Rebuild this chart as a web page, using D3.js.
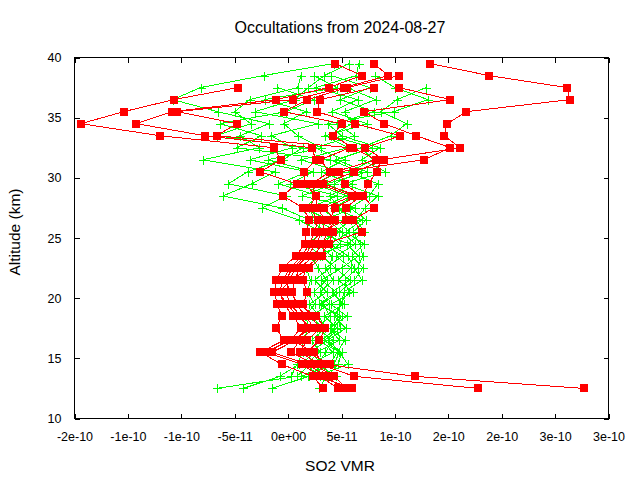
<!DOCTYPE html>
<html><head><meta charset="utf-8">
<script src="https://cdn.jsdelivr.net/npm/d3@7"></script>
<style>
body{margin:0;background:#fff}
svg{display:block}
text{font-family:"Liberation Sans",Arial,Helvetica,sans-serif;fill:#000}
</style>
</head><body>
<svg id="chart" width="640" height="480"></svg>
<script>
// ---- data (VMR values in units of 1e-11) ----
const UNIT = 1e-11;
const altitudes = [12.5,13.5,14.5,15.5,16.5,17.5,18.5,19.5,20.5,21.5,22.5,23.5,24.5,25.5,26.5,27.5,28.5,29.5,30.5,31.5,32.5,33.5,34.5,35.5,36.5,37.5,38.5,39.5];

// red profiles (squares)
const red1 = [3.3,2.3,-0.6,-2.6,-0.4,-1.1,-0.6,-1.0,-1.3,-1.1,-0.5,0.7,1.6,1.7,2.0,1.4,-0.5,0.8,-2.6,-0.7,-1.3,-12.0,-19.4,-15.4,-10.7,-4.7,null,null];
const red2 = [4.7,3.0,1.3,-2.1,0.2,1.2,0.5,-0.4,-0.8,-0.5,0.2,1.3,2.0,2.5,2.8,2.0,2.6,1.6,1.5,2.6,2.2,-7.8,-14.2,-10.9,-1.1,3.8,6.9,4.4];
const red3 = [5.1,3.6,1.8,-1.5,0.7,1.8,1.2,0.2,-0.2,0.1,0.7,1.8,2.6,3.2,3.5,2.7,2.6,2.2,3.9,3.0,5.8,-6.7,-4.8,-10.4,0.5,5.2,9.4,8.0];
const red4 = [5.5,4.3,2.4,0.3,1.1,2.4,1.7,0.7,0.4,0.6,1.1,2.4,3.2,3.7,4.4,3.4,6.0,2.8,4.4,8.2,6.1,4.2,5.0,-0.4,1.8,5.5,10.4,null];
const red5 = [17.8,6.2,3.0,1.1,1.8,3.0,2.1,1.4,1.8,1.4,1.6,3.0,3.8,4.2,3.9,4.4,6.5,3.3,6.2,9.0,7.2,10.5,6.3,2.7,3.0,8.0,null,null];
const red6 = [6.0,2.8,3.9,1.8,2.9,3.5,2.6,1.0,0.2,-0.2,0.4,1.6,2.2,3.0,5.4,5.4,6.8,5.3,4.8,12.7,15.2,12.0,9.0,7.1,15.2,10.4,null,null];
const red7 = [27.7,11.9,3.5,2.4,0.4,2.2,0.9,-0.1,-0.9,0.3,2.0,3.2,3.4,6.9,6.1,8.0,7.0,7.5,8.3,8.7,16.1,14.6,14.9,16.7,26.4,26.1,18.8,13.3];

// green profiles (plus markers)
const green1 = [-6.7,0.8,2.1,4.2,3.1,4.6,3.4,5.2,4.1,5.8,4.4,3.2,4.9,3.6,2.0,-0.6,-6.1,-3.4,-1.2,-8.0,-2.7,-4.5,-1.8,-6.6,-10.8,-8.2,-2.3,4.3];
const green2 = [-4.2,-0.8,1.0,2.7,4.8,3.9,5.5,4.0,6.1,4.7,5.9,4.5,6.3,5.0,3.8,1.5,2.9,-0.9,1.8,-3.6,0.4,-1.6,2.8,-3.1,0.6,1.9,3.4,5.7];
const green3 = [-1.5,1.9,3.3,2.0,3.7,5.4,4.3,5.0,5.2,6.9,6.2,5.6,4.0,5.7,4.6,3.0,5.5,2.4,4.9,1.2,5.6,3.5,7.4,4.1,6.5,2.6,6.4,6.6];
const green4 = [2.9,3.6,4.7,5.0,2.6,3.2,2.2,3.8,3.0,4.2,3.5,5.1,3.3,4.4,5.9,4.8,3.9,6.0,3.1,5.3,2.5,6.2,4.6,8.0,4.9,7.7,4.0,null];
const green5 = [null,2.6,5.6,4.8,3.8,4.3,5.0,2.9,4.5,3.1,5.0,6.6,5.5,7.1,6.4,7.2,8.4,5.2,9.1,6.9,8.6,5.0,3.7,9.9,13.1,10.0,8.1,null];
const green6 = [null,4.5,2.8,3.5,4.2,2.7,3.9,3.3,2.4,3.6,2.8,2.2,5.8,2.6,3.2,6.3,1.3,4.3,6.8,3.9,-4.8,-2.5,-6.4,-0.2,2.4,-1.0,null,null];
const green7 = [null,2.0,3.9,4.6,5.3,4.0,4.8,4.8,5.7,5.3,6.5,7.0,6.7,6.1,7.3,5.8,7.6,8.4,5.7,8.0,6.8,9.6,11.1,8.7,10.2,12.9,null,null];
const green8 = [null,3.0,1.6,3.0,2.2,3.5,2.9,2.0,3.6,2.5,3.9,4.1,2.7,4.8,2.5,2.0,4.6,0.2,2.3,-1.9,3.1,0.9,-0.4,1.7,-2.2,4.6,2.4,null];
const green9 = [null,1.2,4.3,4.8,3.4,4.9,4.6,3.1,4.8,6.2,7.0,6.0,7.1,5.4,6.9,4.3,6.1,3.6,7.4,4.5,7.9,4.0,6.0,5.3,8.2,5.5,null,null];
const green10 = [null,0.3,0.8,1.4,1.3,2.0,1.6,2.5,1.8,2.1,1.7,3.0,1.9,3.1,1.0,-2.4,-0.2,-5.6,-3.8,-0.5,1.4,-6.7,-3.5,-5.0,-3.6,0.9,1.2,null];

const redSeries = [red1,red2,red3,red4,red5,red6,red7];
const greenSeries = [green1,green2,green3,green4,green5,green6,green7,green8,green9,green10];

// ticks
const xTickValues = [-2e-10,-1.5e-10,-1e-10,-5e-11,0,5e-11,1e-10,1.5e-10,2e-10,2.5e-10,3e-10];
const xTickLabels = ["-2e-10","-1e-10","-1e-10","-5e-11","0e+00","5e-11","1e-10","2e-10","2e-10","3e-10","3e-10"];
const yTickValues = [10,15,20,25,30,35,40];
const yTickLabels = ["10","15","20","25","30","35","40"];

const titleText = "Occultations from 2024-08-27";
const xTitle = "SO2 VMR";
const yTitle = "Altitude (km)";

// ---- drawing ----
const svg = d3.select("#chart");
const L = 74.5, R = 608.5, T = 57.5, B = 418.5;
const x = d3.scaleLinear().domain([-2e-10, 3e-10]).range([L, R]);
const y = d3.scaleLinear().domain([10, 40]).range([B, T]);

const FONT = '"Liberation Sans",Arial,Helvetica,sans-serif';

function styleAxis(g, size) {
  g.select(".domain").remove();
  g.attr("font-family", FONT).attr("font-size", size);
  g.selectAll("line").attr("stroke", "#000").attr("shape-rendering", "crispEdges");
  g.selectAll("text").attr("fill", "#000");
}

svg.append("g").attr("transform", `translate(0,${B})`)
  .call(d3.axisBottom(x).tickValues(xTickValues).tickFormat((d, i) => xTickLabels[i]).tickSizeInner(-5).tickSizeOuter(0).tickPadding(14))
  .call(g => styleAxis(g, 12.5));
svg.append("g").attr("transform", `translate(0,${T})`)
  .call(d3.axisTop(x).tickValues(xTickValues).tickFormat("").tickSizeInner(-5).tickSizeOuter(0))
  .call(g => styleAxis(g, 12.5));
svg.append("g").attr("transform", `translate(${L},0)`)
  .call(d3.axisLeft(y).tickValues(yTickValues).tickFormat((d, i) => yTickLabels[i]).tickSizeInner(-5).tickSizeOuter(0).tickPadding(13))
  .call(g => styleAxis(g, 12.5));
svg.append("g").attr("transform", `translate(${R},0)`)
  .call(d3.axisRight(y).tickValues(yTickValues).tickFormat("").tickSizeInner(-5).tickSizeOuter(0))
  .call(g => styleAxis(g, 12.5));

const plot = svg.append("g");
const line = d3.line()
  .defined(d => d.v !== null)
  .x(d => x(d.v * UNIT))
  .y(d => y(d.alt));

function toPoints(vals) {
  return altitudes.map((a, i) => ({ alt: a, v: vals[i] }));
}

// green series
greenSeries.forEach(vals => {
  const pts = toPoints(vals);
  const g = plot.append("g");
  g.append("path").datum(pts).attr("d", line)
    .attr("fill", "none").attr("stroke", "#00ff00").attr("stroke-width", 1)
    .attr("shape-rendering", "crispEdges");
  g.selectAll("path.pt").data(pts.filter(d => d.v !== null)).join("path")
    .attr("class", "pt")
    .attr("transform", d => `translate(${Math.round(x(d.v * UNIT)) + 0.5},${Math.round(y(d.alt)) + 0.5})`)
    .attr("d", "M-4.5,0H4.5M0,-4.5V4.5")
    .attr("stroke", "#00ff00").attr("stroke-width", 1).attr("fill", "none")
    .attr("shape-rendering", "crispEdges");
});

// red series
redSeries.forEach(vals => {
  const pts = toPoints(vals);
  const g = plot.append("g");
  g.append("path").datum(pts).attr("d", line)
    .attr("fill", "none").attr("stroke", "#ff0000").attr("stroke-width", 1)
    .attr("shape-rendering", "crispEdges");
  g.selectAll("rect").data(pts.filter(d => d.v !== null)).join("rect")
    .attr("x", d => Math.round(x(d.v * UNIT)) - 4)
    .attr("y", d => Math.round(y(d.alt)) - 4)
    .attr("width", 8).attr("height", 8)
    .attr("fill", "#ff0000");
});

// frame
svg.append("rect").attr("x", L).attr("y", T).attr("width", R - L).attr("height", B - T)
  .attr("fill", "none").attr("stroke", "#000").attr("stroke-width", 1).attr("shape-rendering", "crispEdges");

// titles
svg.append("text").attr("x", 340).attr("y", 33).attr("text-anchor", "middle")
  .attr("font-size", 16).attr("font-family", FONT).text(titleText);
svg.append("text").attr("x", 340).attr("y", 471).attr("text-anchor", "middle")
  .attr("font-size", 15.5).attr("font-family", FONT).text(xTitle);
svg.append("text").attr("transform", "translate(20,232) rotate(-90)").attr("text-anchor", "middle")
  .attr("font-size", 15.5).attr("font-family", FONT).text(yTitle);
</script>
</body></html>
